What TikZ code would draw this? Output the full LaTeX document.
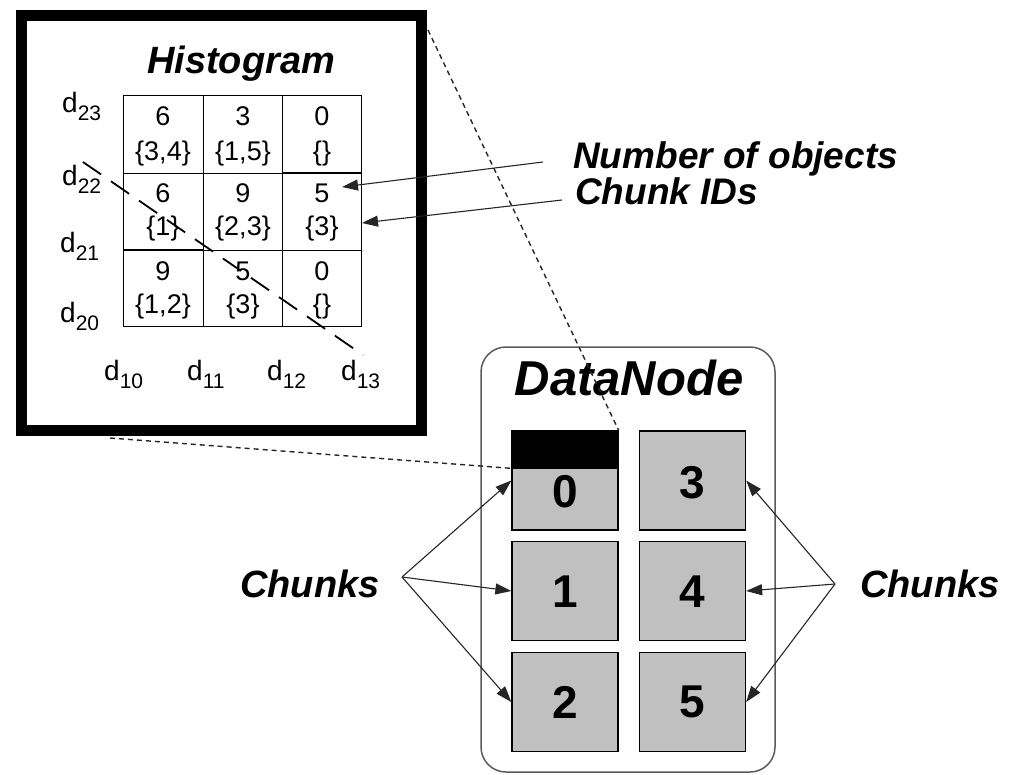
\documentclass[tikz,border=0pt]{standalone}
\usepackage{fontspec}
\setmainfont{Liberation Sans}
\usetikzlibrary{arrows.meta}
\definecolor{chunkgray}{RGB}{192,192,192}
\definecolor{framegray}{RGB}{90,90,90}
\newcommand\dlab[1]{d\raisebox{-8pt}{\fontsize{21}{22}\selectfont #1}}
\begin{document}
\begin{tikzpicture}[x=1pt,y=-1pt,
  bigtext/.style={font=\fontsize{#1}{#1}\selectfont\bfseries\itshape, inner sep=0pt},
  cellnum/.style={font=\fontsize{27}{30}\selectfont, inner sep=0pt, anchor=base},
  dtext/.style={font=\fontsize{28}{30}\selectfont, inner sep=0pt, anchor=base west},
  arr/.style={line width=1.1pt, draw=black!85, -{Triangle[length=16pt,width=11pt]}},
  zoomline/.style={dash pattern=on 5pt off 4pt, line width=1.4pt, draw=black!85},
  diagline/.style={dash pattern=on 22pt off 12pt, line width=1.8pt},
  chunkbox/.style={draw, line width=1.3pt, fill=chunkgray, minimum width=106pt, minimum height=99pt, inner sep=0pt},
  chunknum/.style={font=\fontsize{46}{46}\selectfont\bfseries, inner sep=0pt}
]
\useasboundingbox (0,0) rectangle (1015,774);

% DataNode container
\node[draw=framegray, line width=1.5pt, rounded corners=25pt, minimum width=294pt, minimum height=425pt, inner sep=0pt] (dn) at (628,559.5) {};
\node[bigtext=49] (dntitle) at (629,395) [anchor=base] {DataNode};

% chunks
\node[chunkbox] (c0) at (565,480.5) {};
\node[chunkbox] (c3) at (692.5,480.5) {};
\node[chunkbox] (c1) at (565,591) {};
\node[chunkbox] (c4) at (692.5,591) {};
\node[chunkbox] (c2) at (565,702) {};
\node[chunkbox] (c5) at (692.5,702) {};
\fill (c0.north west) rectangle ([yshift=-38pt]c0.north east);
\draw[line width=1.3pt] (c0.north west) rectangle ([yshift=-38pt]c0.north east);
\coordinate (hdrTR) at (c0.north east);
\coordinate (hdrBL) at ([yshift=-38pt]c0.north west);
\node[chunknum] (n0) at (565,492) {0};
\node[chunknum] (n3) at (692.5,483) {3};
\node[chunknum] (n1) at (565,592) {1};
\node[chunknum] (n4) at (692.5,592) {4};
\node[chunknum] (n2) at (565,702) {2};
\node[chunknum] (n5) at (692.5,702) {5};

% histogram frame
\node[draw, line width=11pt, minimum width=400pt, minimum height=415.5pt, inner sep=0pt] (hist) at (221.5,222.75) {};
\node[bigtext=38, anchor=base] (htitle) at (241,73) {Histogram};

% grid
\draw[line width=1pt] (123,95) rectangle (361,326);
\draw[line width=1pt] (203,95) -- (203,326) (282,95) -- (282,326)
  (123,173) -- (361,173) (123,250) -- (361,250);
\draw[line width=2.2pt] (123,250) -- (203,250) (282,173) -- (361,173);

% cell contents
\foreach \x/\n/\s in {163/6/{\{3,4\}},243/3/{\{1,5\}},322/0/{\{\}}}{
  \node[cellnum] at (\x,125) {\n}; \node[cellnum] at (\x,160) {\s};}
\foreach \x/\n/\s in {163/6/{\{1\}},243/9/{\{2,3\}},322/5/{\{3\}}}{
  \node[cellnum] at (\x,202) {\n}; \node[cellnum] at (\x,235) {\s};}
\foreach \x/\n/\s in {163/9/{\{1,2\}},243/5/{\{3\}},322/0/{\{\}}}{
  \node[cellnum] at (\x,280) {\n}; \node[cellnum] at (\x,313) {\s};}

% axis labels
\node[dtext] (d23) at (62,112) {\dlab{23}};
\node[dtext] (d22) at (62,185) {\dlab{22}};
\node[dtext] (d21) at (60,252) {\dlab{21}};
\node[dtext] (d20) at (60,322) {\dlab{20}};
\node[dtext] (d10) at (104,380) {\dlab{10}};
\node[dtext] (d11) at (187,380) {\dlab{11}};
\node[dtext] (d12) at (267,380) {\dlab{12}};
\node[dtext] (d13) at (341,380) {\dlab{13}};

% diagonal dashed line
\coordinate (diagA) at (83,162);
\coordinate (diagB) at (363,355);
\draw[diagline] (diagA) -- (diagB);

% labels and arrows on the right of histogram
\node[bigtext=37, anchor=base west] (nobj) at (573,168) {Number of objects};
\node[bigtext=37, anchor=base west] (cids) at (575,204) {Chunk IDs};
\coordinate (nobjS) at (543,162);
\coordinate (nobjT) at (342,187);
\coordinate (cidsS) at (562,200);
\coordinate (cidsT) at (362,223);
\draw[arr] (nobjS) -- (nobjT);
\draw[arr] (cidsS) -- (cidsT);

% zoom lines
\coordinate (histTR) at (428,30);
\coordinate (histBL) at (110,438);
\draw[zoomline] (histTR) -- (hdrTR);
\draw[zoomline] (histBL) -- (hdrBL);

% chunks labels
\node[bigtext=38, anchor=base west] (lchunks) at (240,597) {Chunks};
\node[bigtext=38, anchor=base west] (rchunks) at (860,597) {Chunks};
\coordinate (ls) at (402,577);
\coordinate (rs) at (835,584);
\draw[arr] (ls) -- (c0.west);
\draw[arr] (ls) -- (c1.west);
\draw[arr] (ls) -- (c2.west);
\draw[arr] (rs) -- (c3.east);
\draw[arr] (rs) -- (c4.east);
\draw[arr] (rs) -- (c5.east);
\end{tikzpicture}
\end{document}
